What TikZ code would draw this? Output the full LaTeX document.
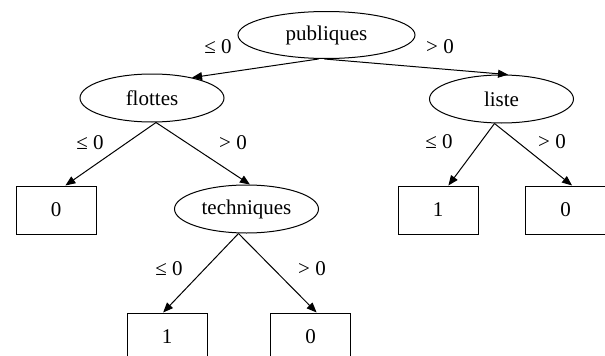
\documentclass[tikz,border=0pt]{standalone}
\usepackage{fontspec}
\setmainfont{Liberation Serif}
\usetikzlibrary{shapes.geometric,arrows.meta}
\begin{document}
\begin{tikzpicture}[x=1pt,y=-1pt,
  every node/.style={font=\fontsize{21}{24}\selectfont},
  test/.style={draw,ellipse,line width=1pt,inner sep=0pt,minimum width=144pt,minimum height=48pt},
  leaf/.style={draw,rectangle,line width=1pt,inner sep=0pt,minimum width=80pt,minimum height=48pt},
  cond/.style={inner sep=0pt},
  branch/.style={line width=1pt,-{Triangle[length=10pt,width=8pt]}}]
\useasboundingbox (0,0) rectangle (605,356);
\clip (0,0) rectangle (605,356);
% decision nodes
\node[test,minimum width=177pt,minimum height=47pt] (pub) at (326.5,35) {publiques};
\node[test] (flo) at (152,98) {flottes};
\node[test] (lis) at (501.5,99) {liste};
\node[test] (tec) at (246.5,209) {techniques};
% leaves
\node[leaf] (l0) at (56,210) {0};
\node[leaf] (l1) at (438,210) {1};
\node[leaf] (l2) at (565.5,210) {0};
\node[leaf] (l3) at (167,337) {1};
\node[leaf] (l4) at (310.5,337) {0};
% branches
\draw[branch] ([xshift=-8pt]pub.south) -- (flo.27);
\draw[branch] ([xshift=-2pt]pub.south) -- (lis.75);
\draw[branch] ([xshift=4pt]flo.south) -- (l0.69);
\draw[branch] ([xshift=4pt]flo.south) -- (tec.82);
\draw[branch] ([xshift=-7pt]lis.south) -- (l1.67);
\draw[branch] ([xshift=-7pt]lis.south) -- (l2.75);
\draw[branch] ([xshift=-8pt]tec.south) -- (l3.99);
\draw[branch] ([xshift=-8pt]tec.south) -- (l4.76);
% branch conditions
\node[cond] (c1) at (218,47) {≤ 0};
\node[cond] (c2) at (440,47) {> 0};
\node[cond] (c3) at (90,143) {≤ 0};
\node[cond] (c4) at (233,143) {> 0};
\node[cond] (c5) at (439,142) {≤ 0};
\node[cond] (c6) at (552,142) {> 0};
\node[cond] (c7) at (169,269) {≤ 0};
\node[cond] (c8) at (312,269) {> 0};
\end{tikzpicture}
\end{document}
